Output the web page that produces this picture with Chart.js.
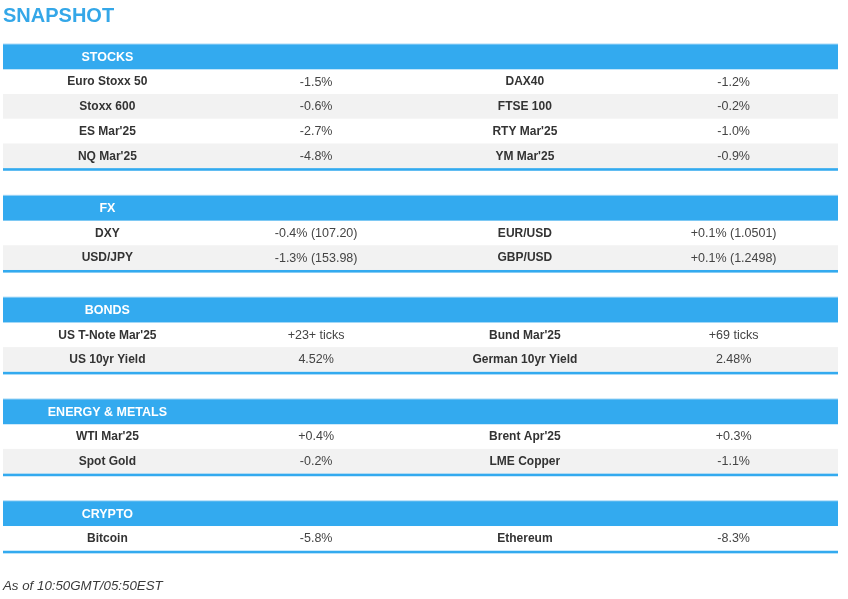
<!DOCTYPE html>
<html><head><meta charset="utf-8">
<style>html,body{margin:0;padding:0;background:#fff}#wrap{width:848px;height:599px;position:relative}</style>
<script src="https://cdn.jsdelivr.net/npm/chart.js@4.4.1/dist/chart.umd.min.js"></script>
</head><body><div id="wrap"><canvas id="c"></canvas></div>
<script>
// ---- data ----
const sectionTitles = ['STOCKS', 'FX', 'BONDS', 'ENERGY & METALS', 'CRYPTO'];

const stocksLeft = ['Euro Stoxx 50', 'Stoxx 600', "ES Mar'25", "NQ Mar'25"];
const stocksLeftValues = ['-1.5%', '-0.6%', '-2.7%', '-4.8%'];
const stocksRight = ['DAX40', 'FTSE 100', "RTY Mar'25", "YM Mar'25"];
const stocksRightValues = ['-1.2%', '-0.2%', '-1.0%', '-0.9%'];

const fxLeft = ['DXY', 'USD/JPY'];
const fxLeftValues = ['-0.4% (107.20)', '-1.3% (153.98)'];
const fxRight = ['EUR/USD', 'GBP/USD'];
const fxRightValues = ['+0.1% (1.0501)', '+0.1% (1.2498)'];

const bondsLeft = ["US T-Note Mar'25", 'US 10yr Yield'];
const bondsLeftValues = ['+23+ ticks', '4.52%'];
const bondsRight = ["Bund Mar'25", 'German 10yr Yield'];
const bondsRightValues = ['+69 ticks', '2.48%'];

const energyLeft = ["WTI Mar'25", 'Spot Gold'];
const energyLeftValues = ['+0.4%', '-0.2%'];
const energyRight = ["Brent Apr'25", 'LME Copper'];
const energyRightValues = ['+0.3%', '-1.1%'];

const cryptoLeft = ['Bitcoin'];
const cryptoLeftValues = ['-5.8%'];
const cryptoRight = ['Ethereum'];
const cryptoRightValues = ['-8.3%'];

const titleText = 'SNAPSHOT';
const footerText = 'As of 10:50GMT/05:50EST';

// ---- table built from the arrays ----
const sections = [
  [stocksLeft, stocksLeftValues, stocksRight, stocksRightValues],
  [fxLeft, fxLeftValues, fxRight, fxRightValues],
  [bondsLeft, bondsLeftValues, bondsRight, bondsRightValues],
  [energyLeft, energyLeftValues, energyRight, energyRightValues],
  [cryptoLeft, cryptoLeftValues, cryptoRight, cryptoRightValues]
].map((cols, i) => ({ title: sectionTitles[i], cols }));

const HEADER_U = 1, ROW_U = 1, GAP_U = 1.117;
let cursor = 0;
const layout = sections.map((s, i) => {
  const top = cursor;
  const n = s.cols[0].length;
  cursor += HEADER_U + n * ROW_U;
  const bottom = cursor;
  if (i < sections.length - 1) cursor += GAP_U;
  return { ...s, top, n, bottom };
});
const totalUnits = cursor;

const BLUE = '#33aaef';
const FONT = '"Liberation Sans", Arial, sans-serif';

const tablePlugin = {
  id: 'snapshotTable',
  afterDraw(chart) {
    const ctx = chart.ctx, xs = chart.scales.x, ys = chart.scales.y;
    const x0 = xs.getPixelForValue(0), x1 = xs.getPixelForValue(4);
    ctx.save();
    layout.forEach(sec => {
      const hTop = ys.getPixelForValue(sec.top);
      const hBot = ys.getPixelForValue(sec.top + HEADER_U);
      // header bar
      ctx.fillStyle = '#a9d9f7';
      ctx.fillRect(x0, hTop - 1, x1 - x0, hBot - hTop + 1);
      ctx.fillStyle = BLUE;
      ctx.fillRect(x0, hTop, x1 - x0, hBot - hTop);
      ctx.fillStyle = '#ffffff';
      ctx.font = 'bold 12.5px ' + FONT;
      ctx.textAlign = 'center';
      ctx.textBaseline = 'middle';
      ctx.fillText(sec.title, xs.getPixelForValue(0.5), (hTop + hBot) / 2 + 0.5);
      // rows
      for (let r = 0; r < sec.n; r++) {
        const rt = ys.getPixelForValue(sec.top + HEADER_U + r * ROW_U);
        const rb = ys.getPixelForValue(sec.top + HEADER_U + (r + 1) * ROW_U);
        if (r % 2 === 1) {
          ctx.fillStyle = '#f2f2f2';
          ctx.fillRect(x0, rt, x1 - x0, rb - rt);
        }
        const cy = (rt + rb) / 2 + 0.5;
        sec.cols.forEach((col, c) => {
          const bold = c % 2 === 0;
          ctx.font = (bold ? 'bold 12px ' : '12.5px ') + FONT;
          ctx.fillStyle = bold ? '#333333' : '#444444';
          ctx.fillText(col[r], xs.getPixelForValue(c + 0.5), cy);
        });
      }
      // bottom line
      const yb = ys.getPixelForValue(sec.bottom);
      ctx.fillStyle = BLUE;
      ctx.fillRect(x0, yb, x1 - x0, 2.6);
    });
    ctx.restore();
  }
};

new Chart(document.getElementById('c'), {
  type: 'bar',
  data: { labels: [], datasets: [] },
  plugins: [tablePlugin],
  options: {
    responsive: true,
    maintainAspectRatio: false,
    animation: false,
    layout: { padding: { left: 3, right: 10, top: 0, bottom: 0 } },
    scales: {
      x: { type: 'linear', display: false, offset: false, min: 0, max: 4 },
      y: { type: 'linear', display: false, offset: false, reverse: true, min: 0, max: totalUnits }
    },
    plugins: {
      legend: { display: false },
      tooltip: { enabled: false },
      title: {
        display: true, text: titleText, align: 'start', position: 'top',
        color: '#34a7e8',
        font: { family: FONT, size: 20, weight: 'bold', lineHeight: 1.2 },
        padding: { top: 4, bottom: 16.5 }
      },
      subtitle: {
        display: true, text: footerText, align: 'start', position: 'bottom',
        color: '#3a3a3a',
        font: { family: FONT, size: 13.3, style: 'italic', weight: 'normal', lineHeight: 1.2 },
        padding: { top: 27.3, bottom: 5 }
      }
    }
  }
});
</script>
</body></html>
